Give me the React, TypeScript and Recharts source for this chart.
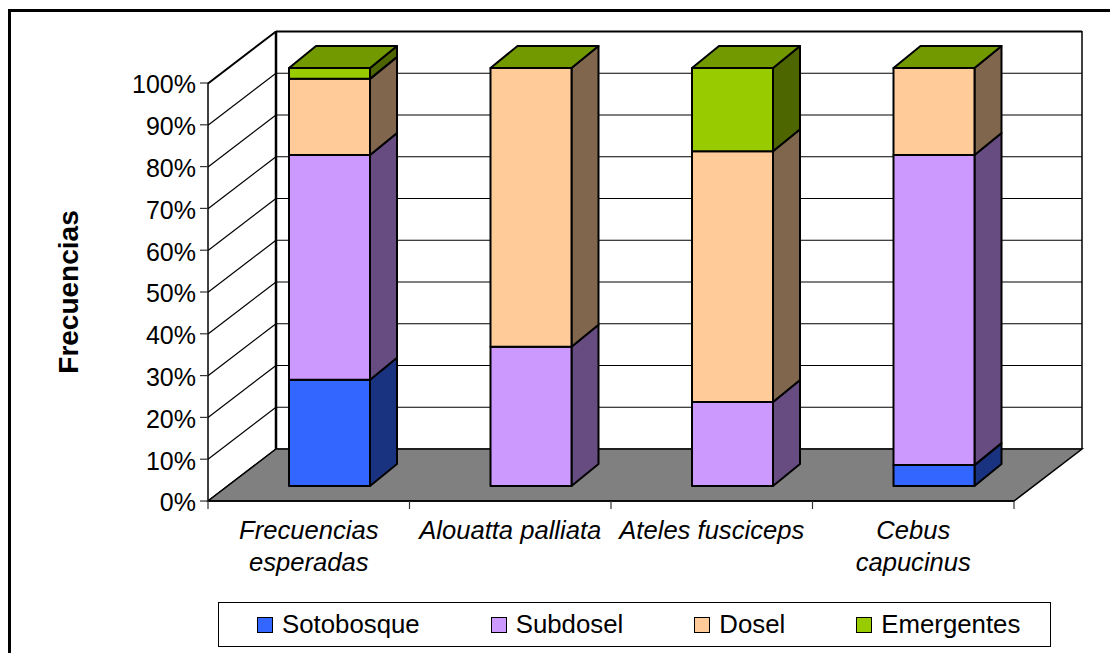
import React from "react";
import { BarChart, Bar, XAxis, YAxis, CartesianGrid, Legend } from "recharts";

const categories = [
  ["Frecuencias", "esperadas"],
  ["Alouatta palliata"],
  ["Ateles fusciceps"],
  ["Cebus", "capucinus"],
];
const sotobosque = [25.4, 0, 0, 5];
const subdosel = [53.8, 33.3, 20.1, 74.2];
const dosel = [18.2, 66.7, 60, 20.8];
const emergentes = [2.6, 0, 19.9, 0];
const yTicks = [0, 10, 20, 30, 40, 50, 60, 70, 80, 90, 100];

const data = categories.map((lines, i) => ({
  name: lines.join(" "),
  lines,
  Sotobosque: sotobosque[i],
  Subdosel: subdosel[i],
  Dosel: dosel[i],
  Emergentes: emergentes[i],
}));

const W = 1110;
const H = 653;
const FONT = "'Liberation Sans', Arial, sans-serif";
const WALL_DX = 68;
const WALL_DY = 52;
const BAR_DX = 27;
const BAR_DY = 22;

const layer: React.CSSProperties = { position: "absolute", left: 0, top: 0 };

const WallLine = (p: any) => (
  <g>
    <line x1={p.x1} y1={p.y1} x2={p.x2} y2={p.y2} stroke="#000" strokeWidth={p.y1 < 40 ? 2 : 1.2} />
    <line x1={p.x1 - WALL_DX} y1={p.y1 + WALL_DY} x2={p.x1} y2={p.y1} stroke="#000" strokeWidth={p.y1 < 40 ? 2 : 1.2} />
  </g>
);

const make3D = (front: string, side: string, top?: string) => (p: any) => {
  const { x, y, width, height } = p;
  const r = x + width;
  const b = y + height;
  return (
    <g stroke="#000" strokeWidth={2} strokeLinejoin="round">
      {height > 0 && (
        <polygon
          points={`${r},${y} ${r + BAR_DX},${y - BAR_DY} ${r + BAR_DX},${b - BAR_DY} ${r},${b}`}
          fill={side}
        />
      )}
      {height > 0 && <rect x={x} y={y} width={width} height={height} fill={front} />}
      {top && (
        <polygon
          points={`${x},${y} ${x + BAR_DX},${y - BAR_DY} ${r + BAR_DX},${y - BAR_DY} ${r},${y}`}
          fill={top}
        />
      )}
    </g>
  );
};

const XTick = (p: any) => {
  const { x, y, index } = p;
  const band = 201.5;
  const lines: string[] = categories[index];
  return (
    <g>
      <line x1={x - band / 2} y1={y - 8} x2={x - band / 2} y2={y} stroke="#333" strokeWidth={1.2} />
      {index === categories.length - 1 && (
        <line x1={x + band / 2} y1={y - 8} x2={x + band / 2} y2={y} stroke="#333" strokeWidth={1.2} />
      )}
      <text
        x={x}
        y={y + 30}
        textAnchor="middle"
        fontFamily={FONT}
        fontStyle="italic"
        fontSize={25.6}
        fill="#000"
      >
        {lines.map((l, i) => (
          <tspan key={i} x={x} dy={i === 0 ? 0 : 32}>
            {l}
          </tspan>
        ))}
      </text>
    </g>
  );
};

const LegendBox = (p: any) => (
  <div
    style={{
      boxSizing: "border-box",
      width: 833,
      height: 45,
      border: "1px solid #000",
      display: "flex",
      alignItems: "center",
      paddingLeft: 38,
      gap: 71,
      fontFamily: FONT,
      fontSize: 25.8,
      color: "#000",
      background: "#fff",
    }}
  >
    {p.payload.map((e: any) => (
      <div key={e.value} style={{ display: "flex", alignItems: "center", gap: 9 }}>
        <span
          style={{
            boxSizing: "border-box",
            display: "inline-block",
            width: 16,
            height: 16,
            background: e.color,
            border: "1px solid #000",
          }}
        />
        <span>{e.value}</span>
      </div>
    ))}
  </div>
);

const Nothing = () => null;

export default function App() {
  return (
    <div style={{ position: "absolute", left: 0, top: 0, width: W, height: H, overflow: "hidden", background: "#fff" }}>
      <div
        style={{
          position: "absolute",
          left: 8,
          top: 9,
          width: W,
          height: H,
          borderLeft: "3.5px solid #000",
          borderTop: "3.5px solid #000",
        }}
      />
      {/* back wall and floor */}
      <div style={layer}>
        <BarChart width={W} height={H} data={data} margin={{ left: 276, right: 28, top: 31.5, bottom: 204 }}>
          <XAxis dataKey="name" hide />
          <YAxis hide domain={[0, 100]} ticks={yTicks} />
          <polygon
            points={`276,449 1082,449 1014,501 208,501`}
            fill="#808080"
            stroke="#000"
            strokeWidth={1.5}
          />
          <CartesianGrid vertical={false} horizontal={WallLine} />
          <line x1={276} y1={31} x2={276} y2={449} stroke="#000" strokeWidth={2.5} />
          <line x1={1082} y1={31} x2={1082} y2={449} stroke="#000" strokeWidth={1.5} />
          <Bar dataKey="Emergentes" isAnimationActive={false} shape={Nothing} />
        </BarChart>
      </div>
      {/* front axes */}
      <div style={layer}>
        <BarChart width={W} height={H} data={data} margin={{ left: 128, right: 96, top: 83, bottom: 92 }}>
          <XAxis
            dataKey="name"
            height={60}
            interval={0}
            axisLine={{ stroke: "#000", strokeWidth: 1.5 }}
            tickLine={false}
            tick={XTick}
          />
          <YAxis
            width={80}
            domain={[0, 100]}
            ticks={yTicks}
            interval={0}
            axisLine={{ stroke: "#000", strokeWidth: 1.5 }}
            tickLine={{ stroke: "#333", strokeWidth: 1.2 }}
            tickSize={8}
            tickMargin={4}
            tickFormatter={(v: number) => `${v}%`}
            tick={{ fontFamily: FONT, fontSize: 25, fill: "#000", dy: 1.5 }}
          />
          <text
            transform="translate(78,292) rotate(-90)"
            textAnchor="middle"
            fontFamily={FONT}
            fontWeight="bold"
            fontSize={28}
            fill="#000"
          >
            Frecuencias
          </text>
          <Bar dataKey="Emergentes" isAnimationActive={false} shape={Nothing} />
        </BarChart>
      </div>
      {/* bars */}
      <div style={layer}>
        <BarChart
          width={W}
          height={H}
          data={data}
          margin={{ left: 229, right: 75, top: 68, bottom: 122 }}
          barSize={81}
        >
          <XAxis dataKey="name" hide />
          <YAxis hide domain={[0, 100]} />
          <Bar dataKey="Sotobosque" stackId="a" fill="#3366FF" isAnimationActive={false} shape={make3D("#3366FF", "#1A3380")} />
          <Bar dataKey="Subdosel" stackId="a" fill="#CC99FF" isAnimationActive={false} shape={make3D("#CC99FF", "#664C80")} />
          <Bar dataKey="Dosel" stackId="a" fill="#FFCC99" isAnimationActive={false} shape={make3D("#FFCC99", "#80664C")} />
          <Bar dataKey="Emergentes" stackId="a" fill="#99CC00" isAnimationActive={false} shape={make3D("#99CC00", "#4D6600", "#739900")} />
          <Legend
            content={LegendBox}
            itemSorter={null}
            wrapperStyle={{ position: "absolute", left: 218, top: 602, width: 833, height: 45, bottom: "auto" }}
          />
        </BarChart>
      </div>
    </div>
  );
}
